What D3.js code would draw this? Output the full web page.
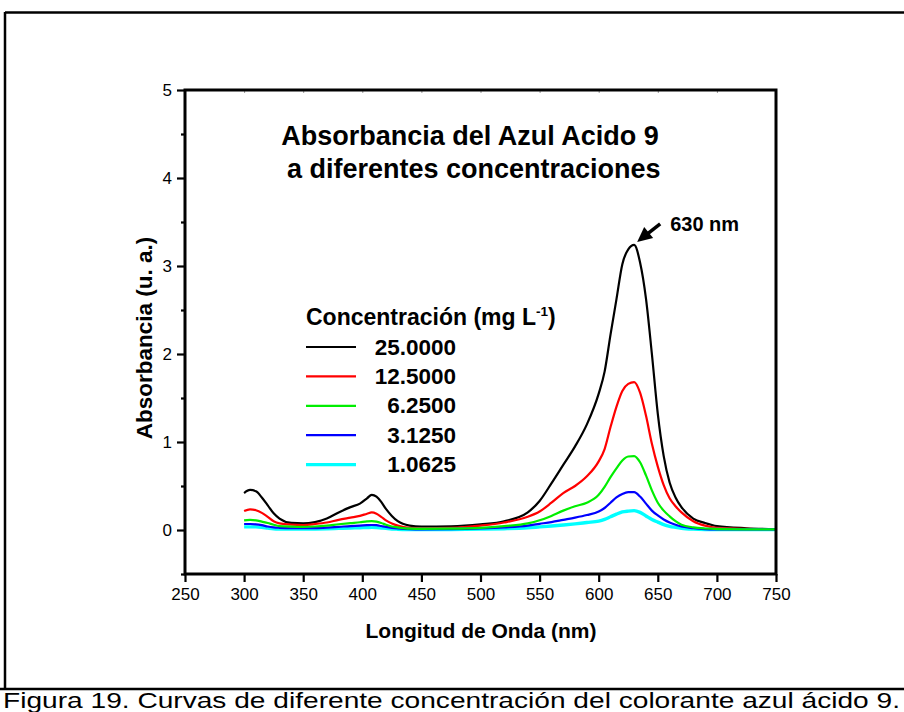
<!DOCTYPE html>
<html><head><meta charset="utf-8">
<script src="https://cdn.jsdelivr.net/npm/d3@7"></script>
<style>
body{margin:0;background:#fff}
svg{display:block}
text{font-family:"Liberation Sans", Arial, sans-serif}
</style>
</head><body>
<svg id="c" width="904" height="712"></svg>
<script>
// ---------- data ----------
const wavelengths = [300,305,310,315,320,325,330,340,350,360,370,380,390,398,404,408,412,416,420,425,430,440,450,475,500,520,540,550,560,570,580,590,600,605,610,615,620,625,630,635,640,645,650,655,660,665,670,680,690,700,725,750];
const conc25000 = [0.42,0.455,0.44,0.37,0.28,0.19,0.13,0.08,0.075,0.09,0.13,0.20,0.26,0.30,0.36,0.40,0.38,0.32,0.24,0.16,0.10,0.05,0.038,0.042,0.065,0.10,0.20,0.33,0.53,0.74,0.95,1.20,1.55,1.80,2.22,2.62,3.02,3.19,3.24,3.04,2.63,2.00,1.32,0.84,0.54,0.37,0.26,0.13,0.08,0.045,0.02,0.01];
const conc12500 = [0.215,0.235,0.225,0.195,0.15,0.10,0.075,0.06,0.057,0.068,0.085,0.115,0.14,0.16,0.185,0.20,0.185,0.15,0.11,0.075,0.05,0.025,0.02,0.025,0.05,0.085,0.15,0.21,0.31,0.42,0.50,0.61,0.78,0.92,1.17,1.40,1.58,1.66,1.68,1.56,1.30,0.98,0.72,0.51,0.36,0.27,0.20,0.10,0.05,0.025,0.012,0.008];
const conc6250 = [0.11,0.115,0.11,0.095,0.08,0.06,0.045,0.038,0.036,0.04,0.05,0.065,0.078,0.088,0.097,0.10,0.095,0.08,0.06,0.04,0.03,0.015,0.012,0.015,0.025,0.045,0.075,0.11,0.16,0.22,0.27,0.31,0.40,0.49,0.60,0.70,0.79,0.835,0.84,0.77,0.62,0.45,0.31,0.22,0.155,0.10,0.06,0.03,0.017,0.011,0.008,0.008];
const conc3125 = [0.068,0.068,0.065,0.055,0.04,0.03,0.025,0.02,0.02,0.022,0.028,0.036,0.045,0.05,0.055,0.057,0.055,0.045,0.035,0.025,0.018,0.01,0.008,0.01,0.018,0.03,0.05,0.07,0.09,0.115,0.14,0.17,0.21,0.25,0.31,0.37,0.41,0.43,0.43,0.38,0.30,0.22,0.165,0.12,0.085,0.06,0.04,0.02,0.011,0.008,0.006,0.006];
const conc1062 = [0.035,0.036,0.035,0.03,0.022,0.015,0.012,0.01,0.01,0.011,0.014,0.018,0.022,0.026,0.028,0.03,0.028,0.023,0.018,0.012,0.009,0.006,0.005,0.006,0.01,0.015,0.025,0.035,0.045,0.057,0.07,0.085,0.10,0.12,0.15,0.18,0.205,0.215,0.22,0.20,0.16,0.12,0.09,0.062,0.042,0.03,0.02,0.01,0.006,0.005,0.004,0.004];
const seriesLabels = ["25.0000","12.5000","6.2500","3.1250","1.0625"];
const xTickValues = [250,300,350,400,450,500,550,600,650,700,750];
const yTickValues = [0,1,2,3,4,5];
const yMinorValues = [-0.5,0.5,1.5,2.5,3.5,4.5];
const peakWavelength = 630;
const peakValue = 3.24;
const peakLabel = "630 nm";
const titleLines = ["Absorbancia del Azul Acido 9", " a diferentes concentraciones"];
const xTitle = "Longitud de Onda (nm)";
const yTitle = "Absorbancia (u. a.)";
const legendTitle = "Concentración (mg L";
const caption = "Figura 19. Curvas de diferente concentración del colorante azul ácido 9.";

// ---------- styles ----------
const colors = ["#000000","#ff0000","#00ee00","#0000ff","#00ffff"];
const widths = [2.2,2.2,2.2,2.2,3.4];
const seriesData = [conc25000, conc12500, conc6250, conc3125, conc1062];

const svg = d3.select("#c");
const x = d3.scaleLinear().domain([250,750]).range([185,776]);
const y = d3.scaleLinear().domain([-0.5,5]).range([574,90]);

// outer frame
svg.append("line").attr("x1",5).attr("x2",904).attr("y1",12.5).attr("y2",12.5).attr("stroke","#000").attr("stroke-width",2.5);
svg.append("line").attr("x1",5).attr("x2",5).attr("y1",12).attr("y2",689).attr("stroke","#000").attr("stroke-width",2.5);
svg.append("line").attr("x1",0).attr("x2",904).attr("y1",689).attr("y2",689).attr("stroke","#000").attr("stroke-width",2.5);

// curves
const line = d3.line().x((d,i)=>x(wavelengths[i])).y(d=>y(d)).curve(d3.curveMonotoneX);
const order = [0,1,4,3,2];
order.forEach(k=>{
  svg.append("path").datum(seriesData[k]).attr("d",line).attr("fill","none")
    .attr("stroke",colors[k]).attr("stroke-width",widths[k]).attr("stroke-linejoin","round");
});

// axes
const gx = svg.append("g").attr("transform",`translate(0,${y(-0.5)})`)
  .call(d3.axisBottom(x).tickValues(xTickValues).tickSize(8).tickPadding(6).tickFormat(d3.format("d")));
const gy = svg.append("g").attr("transform",`translate(${x(250)},0)`)
  .call(d3.axisLeft(y).tickValues(yTickValues).tickSize(8).tickPadding(5).tickFormat(d3.format("d")));
const gym = svg.append("g").attr("transform",`translate(${x(250)},0)`)
  .call(d3.axisLeft(y).tickValues(yMinorValues).tickSize(4).tickFormat(""));
const gt = svg.append("g").attr("transform",`translate(0,${y(5)})`)
  .call(d3.axisTop(x).tickValues(xTickValues.slice(1,-1)).tickSize(-3).tickFormat(""));
[gx,gy,gym].forEach(g=>{
  g.select(".domain").remove();
  g.selectAll(".tick line").attr("stroke","#000").attr("stroke-width",2.2);
  g.selectAll(".tick text").attr("font-size",17).attr("fill","#000").style("font-family","'Liberation Sans', Arial, sans-serif");
});
gt.select(".domain").remove();
gt.selectAll(".tick line").attr("stroke","#999").attr("stroke-width",1);

// box
svg.append("rect").attr("x",x(250)).attr("y",y(5)).attr("width",x(750)-x(250)).attr("height",y(-0.5)-y(5))
  .attr("fill","none").attr("stroke","#000").attr("stroke-width",3);

// axis titles
svg.append("text").attr("x",481).attr("y",638).attr("text-anchor","middle").attr("font-size",21).attr("font-weight","bold").text(xTitle);
svg.append("text").attr("transform","translate(152,338) rotate(-90)").attr("text-anchor","middle").attr("font-size",22.5).attr("font-weight","bold").text(yTitle);

// chart title
titleLines.forEach((t,i)=>{
  svg.append("text").attr("x",470).attr("y",145+i*33).attr("text-anchor","middle").attr("font-size",27).attr("font-weight","bold").attr("xml:space","preserve").style("white-space","pre").text(t);
});

// legend
const lt = svg.append("text").attr("x",306).attr("y",325).attr("font-size",23).attr("font-weight","bold");
lt.append("tspan").text(legendTitle);
lt.append("tspan").attr("font-size",13.5).attr("dy",-9).text("-1");
lt.append("tspan").attr("dy",9).text(")");
seriesLabels.forEach((s,i)=>{
  const ly = 347 + i*29.4;
  svg.append("line").attr("x1",306).attr("x2",356).attr("y1",ly).attr("y2",ly).attr("stroke",colors[i]).attr("stroke-width",widths[i]);
  svg.append("text").attr("x",456).attr("y",ly+7.5).attr("text-anchor","end").attr("font-size",22.5).attr("font-weight","bold").text(s);
});

// peak annotation
const px = x(peakWavelength) + 3, py = y(peakValue) - 3;
svg.append("line").attr("x1",px+23).attr("y1",py-18).attr("x2",px+9).attr("y2",py-7).attr("stroke","#000").attr("stroke-width",3.5);
svg.append("path").attr("d",`M${px},${py} L${px+7},${py-15} L${px+16},${py-4} Z`).attr("fill","#000");
svg.append("text").attr("x",px+33).attr("y",py-11).attr("font-size",20).attr("font-weight","bold").text(peakLabel);

// caption
svg.append("text").attr("x",3).attr("y",708).attr("font-size",22).attr("textLength",897).attr("lengthAdjust","spacingAndGlyphs").text(caption);
</script>
</body></html>
